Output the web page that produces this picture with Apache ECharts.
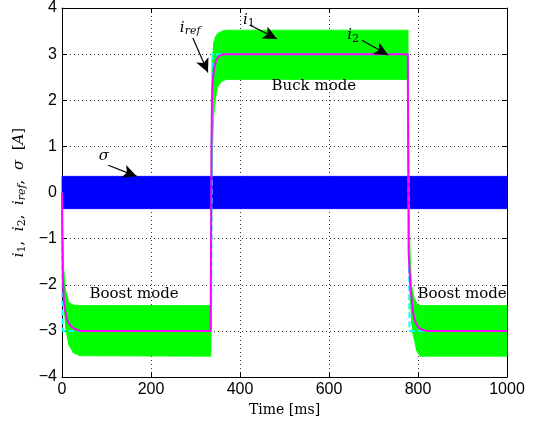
<!DOCTYPE html>
<html lang="en">
<head>
    <meta charset="UTF-8">
    <title>Buck / Boost currents</title>
    <script src="https://cdn.jsdelivr.net/npm/echarts@6.0.0/dist/echarts.min.js"></script>
    <style>
        html, body { margin: 0; padding: 0; background: #fff; }
    </style>
</head>
<body>
    <div id="chart" style="width:538px;height:423px;"></div>

    <script>
        // i1 ripple envelope (green band)
        var i1Time  = [0, 2, 4, 8, 15, 25, 40, 334, 335, 336, 338, 341, 345, 350, 360, 370,
                       777, 778, 780, 783, 786, 789, 792, 797, 800, 805, 810, 1000];
        var i1Upper = [-0.3, -1.1, -1.7, -2.1, -2.38, -2.44, -2.45, -2.45, 0.0, 2.0, 2.9, 3.25, 3.38, 3.45, 3.5, 3.52,
                       3.52, 1.5, -0.5, -1.5, -2.05, -2.2, -2.3, -2.4, -2.44, -2.45, -2.45, -2.45];
        var i1Lower = [-0.3, -1.6, -2.4, -2.93, -3.3, -3.47, -3.54, -3.55, -2.5, -0.5, 0.9, 1.7, 2.05, 2.3, 2.42, 2.45,
                       2.45, 0.5, -1.5, -2.4, -2.85, -3.07, -3.2, -3.43, -3.48, -3.55, -3.55, -3.55];

        // i2 (magenta)
        var i2Time = [0, 1, 2, 4, 7, 10, 14, 20, 29, 40, 334, 335, 336, 337, 339, 342, 346, 352, 360, 370,
                      777, 778, 779, 783, 789, 793, 800, 810, 820, 1000];
        var i2Val  = [0, -1.2, -1.9, -2.3, -2.55, -2.7, -2.82, -2.9, -2.96, -3.0, -3.0, -1.0, 1.0, 2.0, 2.45, 2.7, 2.85, 2.95, 2.99, 3.0,
                      3.0, 1.0, -1.3, -2.06, -2.6, -2.78, -2.92, -2.98, -3.0, -3.0];

        // i_ref (cyan dashed)
        var irefTime = [0, 1.5, 335, 338, 777, 781, 1000];
        var irefVal  = [0, -3, -3, 3, 3, -3, -3];

        // sigma band (blue)
        var sigmaTime  = [0, 1000];
        var sigmaUpper = [0.35, 0.35];
        var sigmaLower = [-0.35, -0.35];

        var xTicks = [0, 200, 400, 600, 800, 1000];
        var yTicks = [-4, -3, -2, -1, 0, 1, 2, 3, 4];

        function pairs(t, v) {
            return t.map(function (x, k) { return [x, v[k]]; });
        }
        // one item per segment: [t0, up0, lo0, t1, up1, lo1]
        function segments(t, up, lo) {
            var out = [];
            for (var k = 0; k < t.length - 1; k++) {
                out.push([t[k], up[k], lo[k], t[k + 1], up[k + 1], lo[k + 1]]);
            }
            return out;
        }
        function bandSeries(name, t, up, lo, color) {
            return {
                name: name, type: 'custom', silent: true,
                data: segments(t, up, lo),
                encode: { x: [0, 3], y: [1, 2, 4, 5] },
                renderItem: function (params, api) {
                    var a = api.coord([api.value(0), api.value(1)]);
                    var b = api.coord([api.value(3), api.value(4)]);
                    var c = api.coord([api.value(3), api.value(5)]);
                    var d = api.coord([api.value(0), api.value(2)]);
                    return {
                        type: 'polygon',
                        shape: { points: [a, b, c, d] },
                        style: { fill: color, stroke: color, lineWidth: 0.8 }
                    };
                }
            };
        }

        var serif = 'DejaVu Serif';
        var annText = {
            n: { fontFamily: serif, fontSize: 15, color: '#000' },
            i: { fontFamily: serif, fontStyle: 'italic', fontSize: 15, color: '#000', lineHeight: 18 },
            s: { fontFamily: serif, fontStyle: 'italic', fontSize: 11, color: '#000', lineHeight: 10, verticalAlign: 'bottom' },
            d: { fontFamily: serif, fontSize: 11, color: '#000', lineHeight: 10, verticalAlign: 'bottom' }
        };

        function note(coord, text) {
            return {
                coord: coord,
                label: { show: true, position: 'inside', formatter: text, rich: annText }
            };
        }
        function arrow(from, to) {
            return [{ coord: from }, { coord: to }];
        }

        var chart = echarts.init(document.getElementById('chart'));

        var option = {
            animation: false,
            grid: { left: 62, right: 31, top: 8, bottom: 46 },
            xAxis: [{
                type: 'value',
                min: xTicks[0], max: xTicks[xTicks.length - 1], interval: 200,
                name: 'Time [ms]',
                nameLocation: 'middle',
                nameGap: 26,
                nameTextStyle: { fontFamily: serif, fontSize: 14, color: '#000' },
                axisLine: { onZero: false, lineStyle: { color: '#000', width: 1 } },
                axisTick: { inside: true, length: 5, lineStyle: { color: '#000' } },
                axisLabel: {
                    fontFamily: 'Liberation Sans', fontSize: 16, color: '#000', margin: 5,
                    formatter: function (v) { return String(v); }
                },
                splitLine: { show: true, lineStyle: { color: '#333', type: [1, 3], width: 1 } }
            }, {
                type: 'value', position: 'top',
                min: xTicks[0], max: xTicks[xTicks.length - 1], interval: 200,
                axisLine: { show: true, onZero: false, lineStyle: { color: '#000', width: 1 } },
                axisTick: { inside: true, length: 5, lineStyle: { color: '#000' } },
                axisLabel: { show: false },
                splitLine: { show: false }
            }],
            yAxis: [{
                type: 'value',
                min: yTicks[0], max: yTicks[yTicks.length - 1], interval: 1,
                name: '{i|i}{d|1}{n|,  }{i|i}{d|2}{n|,  }{i|i}{s|ref}{n|,  }{i|σ}{n|  [}{i|A}{n|]}',
                nameLocation: 'middle',
                nameGap: 32,
                nameRotate: 90,
                nameTextStyle: { rich: {
                    n: { fontFamily: serif, fontSize: 15, color: '#000', lineHeight: 18 },
                    i: { fontFamily: serif, fontStyle: 'italic', fontSize: 15, color: '#000', lineHeight: 18 },
                    s: { fontFamily: serif, fontStyle: 'italic', fontSize: 11, color: '#000', lineHeight: 10, verticalAlign: 'bottom' },
                    d: { fontFamily: serif, fontSize: 11, color: '#000', lineHeight: 10, verticalAlign: 'bottom' }
                } },
                axisLine: { show: true, onZero: false, lineStyle: { color: '#000', width: 1 } },
                axisTick: { inside: true, length: 5, lineStyle: { color: '#000' } },
                axisLabel: {
                    fontFamily: 'Liberation Sans', fontSize: 16, color: '#000', margin: 5,
                    formatter: function (v) { return v < 0 ? '\u2212' + (-v) : String(v); }
                },
                splitLine: { show: true, lineStyle: { color: '#333', type: [1, 3], width: 1 } }
            }, {
                type: 'value', position: 'right',
                min: yTicks[0], max: yTicks[yTicks.length - 1], interval: 1,
                axisLine: { show: true, onZero: false, lineStyle: { color: '#000', width: 1 } },
                axisTick: { inside: true, length: 5, lineStyle: { color: '#000' } },
                axisLabel: { show: false },
                splitLine: { show: false }
            }],
            series: [
                bandSeries('i1', i1Time, i1Upper, i1Lower, '#00ff00'),
                {
                    name: 'iref', type: 'line',
                    data: pairs(irefTime, irefVal),
                    showSymbol: false, silent: true,
                    lineStyle: { color: '#00ffff', width: 2, type: [6, 3] }
                },
                {
                    name: 'i2', type: 'line',
                    data: pairs(i2Time, i2Val),
                    showSymbol: false, silent: true,
                    lineStyle: { color: '#ff00ff', width: 2 }
                },
                bandSeries('sigma', sigmaTime, sigmaUpper, sigmaLower, '#0000ff'),
                {
                    // annotations
                    name: 'notes', type: 'line', data: [], silent: true,
                    markPoint: {
                        silent: true,
                        symbol: 'rect',
                        symbolSize: 1,
                        itemStyle: { color: 'rgba(0,0,0,0)' },
                        data: [
                            note([288, 3.57], '{i|i}{s|ref}'),
                            note([420, 3.74], '{i|i}{d|1}'),
                            note([654, 3.41], '{i|i}{d|2}'),
                            note([566, 2.30], '{n|Buck mode}'),
                            note([94, 0.78], '{i|σ}'),
                            note([162, -2.2], '{n|Boost mode}'),
                            note([899, -2.2], '{n|Boost mode}')
                        ]
                    },
                    markLine: {
                        silent: true,
                        symbol: ['none', 'arrow'],
                        symbolSize: [10, 14],
                        label: { show: false },
                        lineStyle: { color: '#000', width: 1.2, type: 'solid' },
                        data: [
                            arrow([294, 3.35], [328, 2.6]),
                            arrow([422, 3.63], [483, 3.33]),
                            arrow([674, 3.30], [733, 2.98]),
                            arrow([104, 0.59], [168, 0.35])
                        ]
                    }
                }
            ]
        };

        chart.setOption(option);
    </script>
</body>
</html>
